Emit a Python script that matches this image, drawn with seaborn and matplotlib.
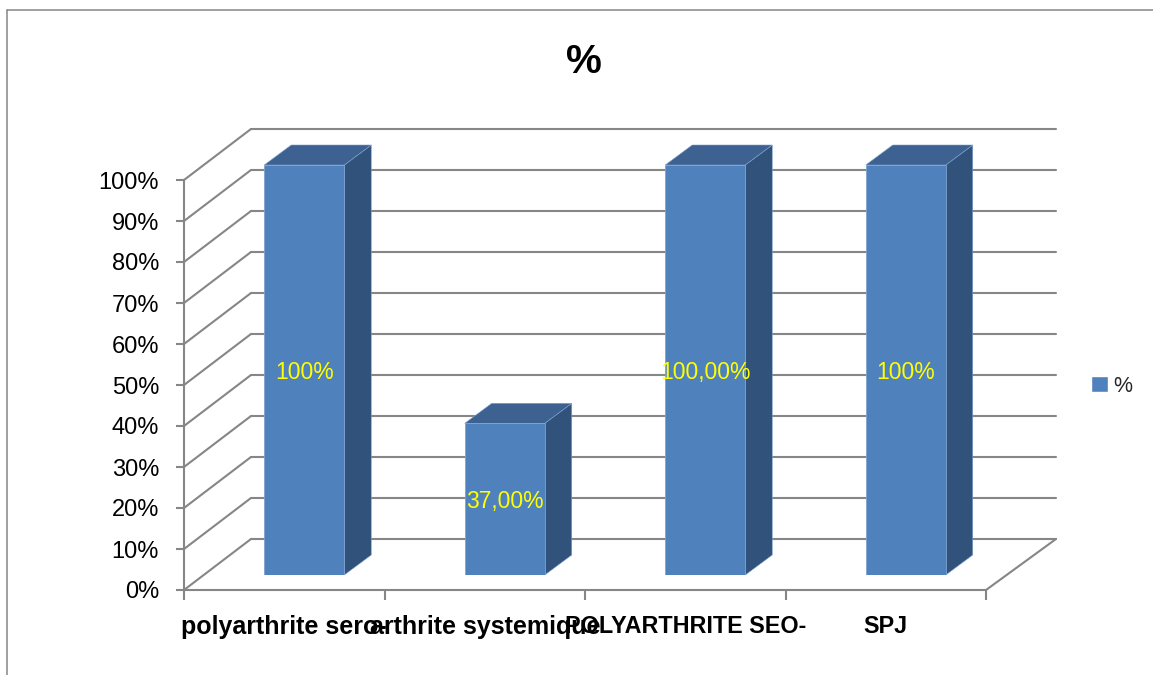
import matplotlib
matplotlib.use("Agg")
import matplotlib.pyplot as plt
from matplotlib.lines import Line2D
from matplotlib.patches import Patch, Polygon
import pandas as pd
import seaborn as sns

categories = ["polyarthrite sero-", "arthrite systemique", "POLYARTHRITE SEO-", "SPJ"]
values = [100, 37, 100, 100]
value_labels = ["100%", "37,00%", "100,00%", "100%"]
y_ticks = list(range(0, 101, 10))
series_name = "%"
chart_title = "%"

FRONT = "#4F81BD"
SIDE = "#31527A"
TOP = "#3D6190"
EDGE = "#7FA3CF"
GRID = "#868686"

W, H = 1153, 675
sns.set_theme(style="white")
plt.rcParams["font.family"] = ["Liberation Sans", "DejaVu Sans"]

fig = plt.figure(figsize=(W / 100, H / 100), dpi=100, facecolor="white")


def axes_rect(left, right, top, bottom):
    """Axes rectangle from pixel edges measured from the top-left corner."""
    return [left / W, 1 - bottom / H, (right - left) / W, (bottom - top) / H]


# Outer chart frame: left and top edges only
fig.add_artist(Line2D([7 / W, 7 / W], [0, 1 - 10 / H], color=GRID, lw=1.1))
fig.add_artist(Line2D([7 / W, 1], [1 - 10 / H, 1 - 10 / H], color=GRID, lw=1.1))

# Front plane of the 3D box, carrying the axis ticks and labels
wall = fig.add_axes(axes_rect(184, 986, 180, 590))
wall.set_xlim(-0.5, 3.5)
wall.set_ylim(0, 100)
wall.patch.set_alpha(0)
for side in ("top", "right"):
    wall.spines[side].set_visible(False)
for side in ("left", "bottom"):
    wall.spines[side].set_color(GRID)
    wall.spines[side].set_linewidth(1.5)

wall.set_yticks(y_ticks, [f"{t}%" for t in y_ticks])
wall.set_xticks(range(len(categories)), categories, fontweight="bold")
for tick_label, size in zip(wall.get_xticklabels(), (18, 18, 16.8, 16.8)):
    tick_label.set_fontsize(size)
wall.set_xticks([i - 0.5 for i in range(len(categories) + 1)], minor=True)
wall.tick_params(axis="x", which="major", bottom=False, pad=12, colors="black")
wall.tick_params(axis="x", which="minor", bottom=True, length=7, width=1.5, color=GRID)
wall.tick_params(axis="y", left=True, length=6, width=1.5, color=GRID, labelsize=17, pad=12, labelcolor="black")

# Oblique depth of the box, in data units of the front plane
depth_x = 67 / 200.5
depth_x_right = 70 / 200.5
depth_y = 51 / 4.1
for t in y_ticks:
    wall.plot([-0.5, -0.5 + depth_x], [t, t + depth_y], color=GRID, lw=1.5, clip_on=False)
    wall.plot([-0.5 + depth_x, 3.5 + depth_x_right], [t + depth_y, t + depth_y], color=GRID, lw=1.5, clip_on=False)
wall.plot([3.5, 3.5 + depth_x_right], [0, depth_y], color=GRID, lw=1.5, clip_on=False)

# Bars stand partway into the box, so their plane is shifted up and to the right
bars = fig.add_axes(axes_rect(204, 1006, 165, 575))
frame = pd.DataFrame({"category": categories, "value": values})
sns.barplot(data=frame, x="category", y="value", color=FRONT, saturation=1,
            width=80 / 200.5, ax=bars, edgecolor=EDGE, linewidth=0.6, zorder=3)
bars.set_xlim(-0.5, 3.5)
bars.set_ylim(0, 100)
bars.axis("off")

bar_dx = 27 / 200.5
bar_dy = 20 / 4.1
for rect in list(bars.patches):
    x0, x1 = rect.get_x(), rect.get_x() + rect.get_width()
    h = rect.get_height()
    bars.add_patch(Polygon([(x1, 0), (x1 + bar_dx, bar_dy), (x1 + bar_dx, h + bar_dy), (x1, h)],
                           facecolor=SIDE, edgecolor=EDGE, linewidth=0.4, clip_on=False, zorder=2))
    bars.add_patch(Polygon([(x0, h), (x0 + bar_dx, h + bar_dy), (x1 + bar_dx, h + bar_dy), (x1, h)],
                           facecolor=TOP, edgecolor=EDGE, linewidth=0.4, clip_on=False, zorder=2))

value_texts = bars.bar_label(bars.containers[0], labels=value_labels, label_type="center",
                             color="#FFFF00", fontsize=16.5, zorder=5)
for label in value_texts:
    label.xyann = (0, -1.5)

fig.text(584 / W, 1 - 62 / H, chart_title, ha="center", va="center", fontsize=29, fontweight="bold", color="black")

fig.legend(handles=[Patch(facecolor=FRONT, label=series_name)], loc="center left",
           bbox_to_anchor=(1074 / W, 1 - 386 / H), frameon=False, fontsize=15.5,
           handlelength=0.78, handleheight=0.78, handletextpad=0.22, borderpad=0.3)

fig.savefig("out.png", dpi=100)
